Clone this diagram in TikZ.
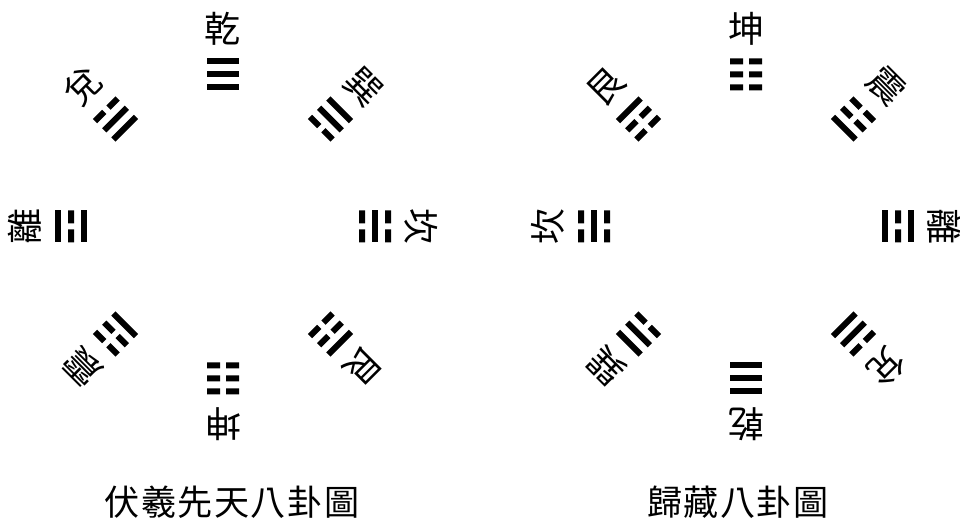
\documentclass[tikz,border=0pt]{standalone}
\usepackage{fontspec}
\newfontfamily\cjk{Noto Sans CJK TC}
\tikzset{
  yao/.style={fill=black},
  gm/.style={font=\cjk\fontsize{20.5}{20.5}\selectfont,inner sep=0pt},
  ttl/.style={font=\cjk\fontsize{20}{20}\selectfont\addfontfeatures{LetterSpace=4},inner sep=0pt},
}
% one line of a trigram: #1 = 1 solid, 0 broken; #2 = its height
\newcommand\yao[2]{%
  \ifnum#1=1 \fill[yao] (-16,#2-3) rectangle (16,#2+3);
  \else \fill[yao] (-16,#2-3) rectangle (-3,#2+3) (3,#2-3) rectangle (16,#2+3);
  \fi}

\begin{document}
\begin{tikzpicture}[x=0.02cm,y=0.02cm]
\useasboundingbox (0,0) rectangle (960,520);
% Fuxi, earlier heaven
\begin{scope}[shift={(223,293.5)}]
  \foreach \ang/\nm/\a/\b/\c [count=\i] in {90/乾/1/1/1, 45/巽/0/1/1, 0/坎/0/1/0, -45/艮/0/0/1,
      -90/坤/0/0/0, -135/震/1/0/0, 180/離/1/0/1, 135/兌/1/1/0}{
    \begin{scope}[shift={(\ang:152)},rotate=\ang-90]
      \yao{\a}{-13} \yao{\b}{0} \yao{\c}{13}
    \end{scope}
    \node[gm,rotate=\ang-90] (fx\i) at (\ang:198) {\nm};
  }
\end{scope}
\node[ttl] (fxtitle) at (232,18) {伏羲先天八卦圖};
% Guicang
\begin{scope}[shift={(746,293.5)}]
  \foreach \ang/\nm/\a/\b/\c [count=\i] in {90/坤/0/0/0, 45/震/1/0/0, 0/離/1/0/1, -45/兌/1/1/0,
      -90/乾/1/1/1, -135/巽/0/1/1, 180/坎/0/1/0, 135/艮/0/0/1}{
    \begin{scope}[shift={(\ang:152)},rotate=\ang-90]
      \yao{\a}{-13} \yao{\b}{0} \yao{\c}{13}
    \end{scope}
    \node[gm,rotate=\ang-90] (gc\i) at (\ang:198) {\nm};
  }
\end{scope}
\node[ttl] (gctitle) at (738,18) {歸藏八卦圖};
\end{tikzpicture}
\end{document}
